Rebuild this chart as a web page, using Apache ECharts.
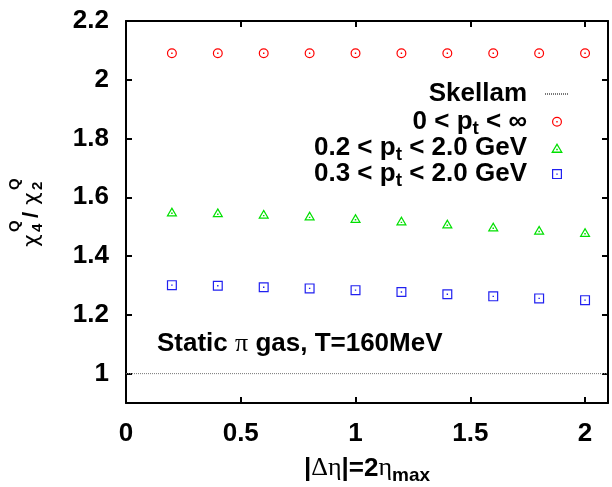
<!DOCTYPE html>
<html><head><meta charset="utf-8">
<script src="https://cdn.jsdelivr.net/npm/echarts@6/dist/echarts.min.js"></script>
<style>html,body{margin:0;padding:0;background:#fff}#c{width:612px;height:487px}</style>
</head><body><div id="c"></div>
<script>
// ---- data ----
const etaValues = [0.2, 0.4, 0.6, 0.8, 1.0, 1.2, 1.4, 1.6, 1.8, 2.0];
const ratioAllPt = [2.09, 2.09, 2.09, 2.09, 2.09, 2.09, 2.09, 2.09, 2.09, 2.09];
const ratioPt02 = [1.551, 1.548, 1.543, 1.537, 1.529, 1.520, 1.510, 1.500, 1.489, 1.481];
const ratioPt03 = [1.301, 1.299, 1.294, 1.290, 1.284, 1.278, 1.270, 1.263, 1.256, 1.250];
const skellamX = [0, 2.1];
const skellamY = [1, 1];
const xTicks = [0, 0.5, 1, 1.5, 2];
const yTicks = [1, 1.2, 1.4, 1.6, 1.8, 2.0, 2.2];
const seriesNames = ['Skellam', 'allPt', 'pt02', 'pt03'];
const legendLabels = {
  Skellam: 'Skellam',
  allPt: '0 < p{sub|t} < ∞',
  pt02: '0.2 < p{sub|t} < 2.0 GeV',
  pt03: '0.3 < p{sub|t} < 2.0 GeV'
};

// ---- style ----
const FONT = '"Liberation Sans", Arial, Helvetica, sans-serif';
const GFONT = '"Liberation Serif", "DejaVu Serif", serif';
const FS = 26;
const SYM_CIRCLE = 'path://M0,50A50,50,0,1,0,100,50A50,50,0,1,0,0,50Z M12,50A38,38,0,1,1,88,50A38,38,0,1,1,12,50Z M43,43L57,43L57,57L43,57Z';
const SYM_TRI = 'path://M50,0L100,85L0,85Z M50,22L19,74L81,74Z M43,50L57,50L57,63L43,63Z';
const SYM_SQ = 'path://M0,0L100,0L100,100L0,100Z M12,12L12,88L88,88L88,12Z M43,43L57,43L57,57L43,57Z';

const fmt = v => String(+(+v).toFixed(2));
const axisLineStyle = {show: true, onZero: false, lineStyle: {color: '#000', width: 2}};
const richStyles = {
  sub: {fontSize: 19, fontWeight: 'bold', fontFamily: FONT, lineHeight: 10, padding: [14, 0, 0, 0], color: '#000'},
  g: {fontSize: FS, fontWeight: 'normal', fontFamily: GFONT, color: '#000'}
};

function mkX(pos, showLabel) {
  return {
    type: 'value', min: 0, max: 2.1, position: pos,
    axisLine: axisLineStyle,
    axisTick: {show: true, inside: true, length: 6, customValues: xTicks, lineStyle: {color: '#000', width: 2}},
    axisLabel: {show: showLabel, customValues: xTicks, margin: 18, color: '#000', fontSize: FS, fontWeight: 'bold', fontFamily: FONT, formatter: fmt},
    splitLine: {show: false}
  };
}
function mkY(pos, showLabel) {
  return {
    type: 'value', min: 0.9, max: 2.2, position: pos,
    axisLine: axisLineStyle,
    axisTick: {show: true, inside: true, length: 6, customValues: yTicks, lineStyle: {color: '#000', width: 2}},
    axisLabel: {show: showLabel, customValues: yTicks, margin: 17, color: '#000', fontSize: FS, fontWeight: 'bold', fontFamily: FONT, formatter: fmt},
    splitLine: {show: false}
  };
}
const xBottom = mkX('bottom', true);
xBottom.name = '|{g|Δη}|=2{g|η}{sub|max}';
xBottom.nameLocation = 'middle';
xBottom.nameGap = 52;
xBottom.nameTextStyle = {color: '#000', fontSize: FS, fontWeight: 'bold', fontFamily: FONT, lineHeight: 24, rich: richStyles};

const pair = (xs, ys) => xs.map((x, i) => [x, ys[i]]);

const chart = echarts.init(document.getElementById('c'), null, {renderer: 'canvas'});
const yl = (t, x, y, size, fam, wt) => ({type: 'text', x: x, y: y, style: {text: t, font: (wt || 'bold') + ' ' + size + 'px ' + (fam || FONT), fill: '#000', textAlign: 'left', textVerticalAlign: 'middle'}});
const CHI = '"DejaVu Sans", sans-serif';
chart.setOption({
  animation: false,
  backgroundColor: '#fff',
  grid: {left: 126, right: 4, top: 21, bottom: 84, containLabel: false, outerBoundsMode: 'none'},
  xAxis: [xBottom, mkX('top', false)],
  yAxis: [mkY('left', true), mkY('right', false)],
  legend: {
    orient: 'vertical', align: 'right', right: 42, top: 76, padding: 0,
    itemWidth: 24, itemHeight: 10, itemGap: -6.8,
    data: [
      {name: seriesNames[0], itemStyle: {opacity: 0}, textStyle: {padding: [6, 13, 6, 0]}},
      seriesNames[1], seriesNames[2], seriesNames[3]
    ],
    formatter: n => legendLabels[n],
    textStyle: {color: '#000', fontSize: FS, fontWeight: 'bold', fontFamily: FONT, lineHeight: 24, padding: [0, 13, 0, 0], rich: richStyles},
    selectedMode: false
  },
  series: [
    {name: seriesNames[0], type: 'line', data: pair(skellamX, skellamY), symbol: 'none', silent: true,
     lineStyle: {color: '#777', width: 1, type: [1, 1]}, itemStyle: {color: '#777', opacity: 0}, z: 1},
    {name: seriesNames[1], type: 'scatter', data: pair(etaValues, ratioAllPt), symbol: SYM_CIRCLE, symbolSize: 10,
     itemStyle: {color: '#ff0000', opacity: 1}, z: 3},
    {name: seriesNames[2], type: 'scatter', data: pair(etaValues, ratioPt02), symbol: SYM_TRI, symbolSize: [11, 9.5],
     itemStyle: {color: '#00e000', opacity: 1}, z: 3},
    {name: seriesNames[3], type: 'scatter', data: pair(etaValues, ratioPt03), symbol: SYM_SQ, symbolSize: 10,
     itemStyle: {color: '#2020f0', opacity: 1}, z: 3}
  ],
  graphic: [
    {type: 'text', x: 157, y: 344, style: {text: 'Static {g|π} gas, T=160MeV', font: 'bold ' + FS + 'px ' + FONT, fill: '#000', textAlign: 'left', textVerticalAlign: 'middle', rich: richStyles}},
    {type: 'group', x: 40, y: 247, rotation: Math.PI / 2, children: [
      yl('χ', 0, -7.7, 22, CHI, 'normal'),
      yl('4', 15, -2.3, 15),
      yl('Q', 15, -25.3, 15),
      yl('/', 29, -7.7, 22),
      yl('χ', 42, -7.7, 22, CHI, 'normal'),
      yl('2', 57, -2.3, 15),
      yl('Q', 57, -25.3, 15)
    ]}
  ]
});
</script></body></html>
